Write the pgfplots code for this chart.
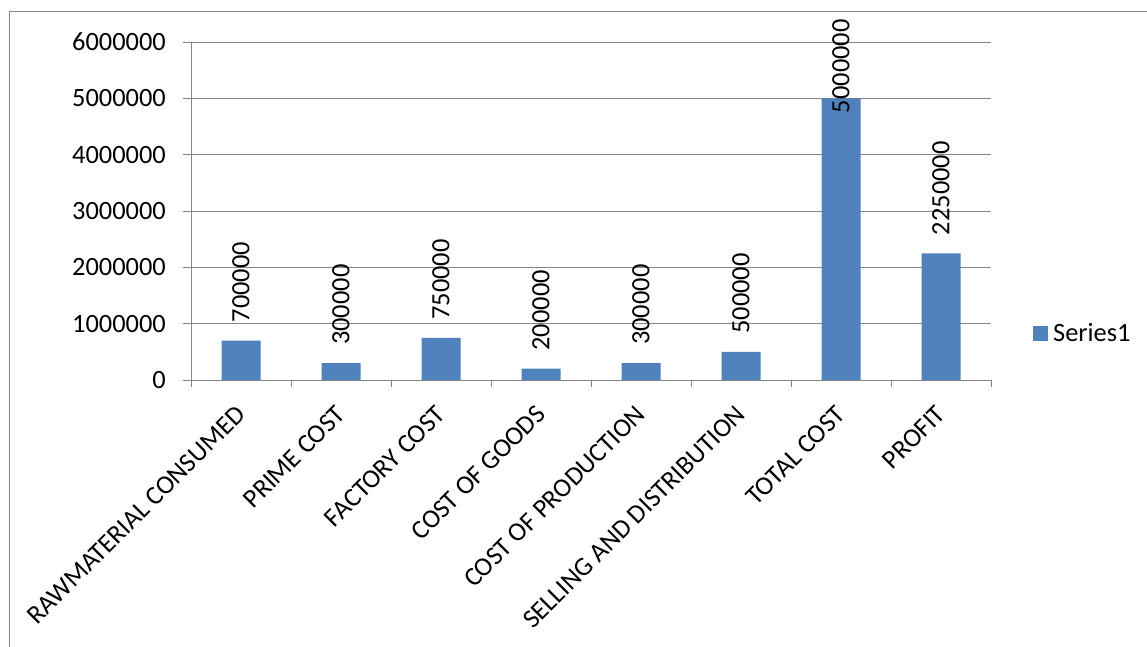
\documentclass[border=0pt]{standalone}
\usepackage{pgfplots}
\pgfplotsset{compat=1.18}
\usepackage{pgfplotstable}
\usepackage{fontspec}
\setmainfont{Carlito}
\definecolor{barblue}{HTML}{4F81BD}
\definecolor{gridgray}{HTML}{868686}
\pgfplotstableread{
x y lab off
0 700000 700000 18
1 300000 300000 18
2 750000 750000 18
3 200000 200000 18
4 300000 300000 18
5 500000 500000 18
6 5000000 5000000 -15
7 2250000 2250000 18
}\costdata
\newcommand{\bigfont}{\fontsize{26.4}{31}\selectfont}
\begin{document}
\begin{tikzpicture}[x=1pt,y=1pt]
\begin{axis}[
  at={(191pt,266pt)}, anchor=south west,
  scale only axis, width=800pt, height=338pt,
  xmin=-0.5, xmax=7.5, ymin=0, ymax=6000000,
  axis lines=left,
  axis line style={draw=gridgray, line width=1pt, -},
  ymajorgrids, grid style={draw=gridgray, line width=1pt},
  ytick={0,1000000,...,6000000},
  scaled y ticks=false,
  /pgf/number format/fixed,
  /pgf/number format/1000 sep={},
  /pgf/number format/precision=0,
  /pgf/number format/assume math mode=true,
  ticklabel style={font=\bigfont, text=black},
  xtick={0,...,7},
  xticklabels={RAWMATERIAL CONSUMED, PRIME COST, FACTORY COST, COST OF GOODS, COST OF PRODUCTION, SELLING AND DISTRIBUTION, TOTAL COST, PROFIT},
  minor xtick={-0.5,0.5,...,7.5},
  tick align=outside,
  major tick length=8pt, minor tick length=7pt,
  major x tick style={draw=none},
  tick style={draw=gridgray, line width=1pt},
  xticklabel style={rotate=45, anchor=east, inner sep=0pt},
  xticklabel shift=22pt,
  yticklabel style={inner sep=0pt},
  yticklabel shift=17pt,
  clip=false,
  legend style={at={(1.0525,0.139)}, anchor=west, draw=none, fill=none, inner sep=0pt,
    font=\bigfont, nodes={inner xsep=5pt, inner ysep=2pt}},
]
\addplot[ybar, bar width=39pt, fill=barblue, draw=none,
  legend image code/.code={\fill[barblue] (0pt,-7.5pt) rectangle (15pt,7.5pt);},
  point meta=explicit symbolic,
  visualization depends on={\thisrow{off} \as \off},
  nodes near coords,
  every node near coord/.append style={yshift=\off pt, rotate=90, anchor=west, inner sep=0pt, font=\bigfont, text=black},
] table[x=x, y=y, meta=lab] {\costdata};
\addlegendentry{Series1}
\end{axis}
\draw[gridgray, line width=1pt] (9pt,-10pt) -- (9pt,634pt) -- (1160pt,634pt);
\pgfresetboundingbox
\useasboundingbox (0pt,0pt) rectangle (1147pt,646pt);
\end{tikzpicture}
\end{document}
